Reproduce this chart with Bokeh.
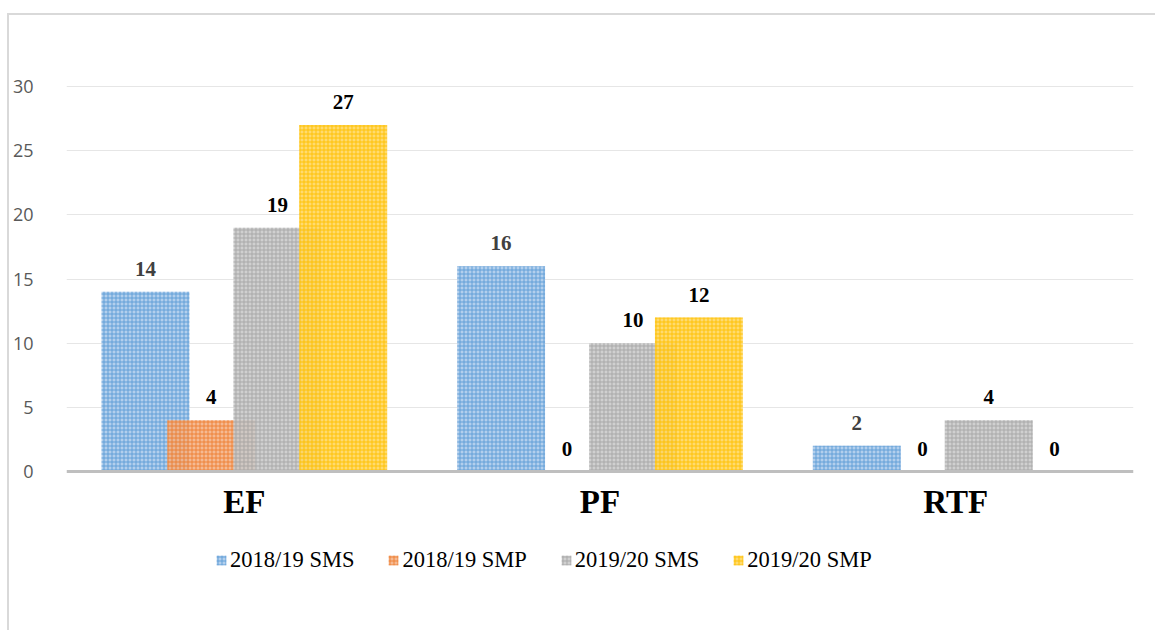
from bokeh.plotting import figure
from bokeh.models import (FactorRange, Range1d, FixedTicker, Legend, LegendItem,
                          ColumnDataSource, Span)
from bokeh.transform import dodge
from bokeh.core.properties import value
from bokeh.embed import file_html
from bokeh.resources import INLINE

categories = ["EF", "PF", "RTF"]
series_names = ["2018/19 SMS", "2018/19 SMP", "2019/20 SMS", "2019/20 SMP"]
sms_1819 = [14, 16, 2]
smp_1819 = [4, 0, 0]
sms_1920 = [19, 10, 4]
smp_1920 = [27, 12, 0]
y_ticks = [0, 5, 10, 15, 20, 25, 30]

series_values = [sms_1819, smp_1819, sms_1920, smp_1920]
fills = ["#A9C8EA", "#F4B084", "#CACACA", "#FFD65C"]
hatches = ["#5B9BD5", "#ED7D31", "#A5A5A5", "#FFC000"]
label_colors = ["#404040", "#000000", "#000000", "#000000"]
offsets = [-0.278, -0.093, 0.093, 0.278]
bar_w = 0.247

p = figure(x_range=FactorRange(*categories, range_padding=0),
           y_range=Range1d(-12.546, 32.03),
           width=1148, height=617, output_backend="svg", toolbar_location=None,
           min_border_left=56, min_border_right=24, min_border_top=45,
           min_border_bottom=0)
p.styles = {"border-top": "2px solid #D9D9D9", "border-left": "2px solid #D9D9D9",
            "margin-left": "7px", "margin-top": "13px"}
p.outline_line_color = None
p.background_fill_color = "white"
p.border_fill_color = "white"

p.xaxis.visible = False
p.xgrid.grid_line_color = None
p.ygrid.grid_line_color = "#E6E6E6"
p.ygrid.grid_line_width = 1
p.yaxis.ticker = FixedTicker(ticks=y_ticks)
p.ygrid.ticker = FixedTicker(ticks=y_ticks[1:])
p.yaxis.axis_line_color = None
p.yaxis.major_tick_line_color = None
p.yaxis.minor_tick_line_color = None
p.yaxis.major_label_text_font = "Open Sans"
p.yaxis.major_label_text_font_size = "18px"
p.yaxis.major_label_text_color = "#595959"
p.yaxis.major_label_standoff = 27

items = []
for name, vals, fc, hc, lc, off in zip(series_names, series_values, fills, hatches,
                                       label_colors, offsets):
    src = ColumnDataSource(dict(cat=categories, val=vals,
                                txt=[str(v) for v in vals]))
    r = p.vbar(x=dodge("cat", off, range=p.x_range), top="val", bottom=0,
               width=bar_w, source=src, fill_color=fc, fill_alpha=0.88,
               line_color=None, hatch_pattern="+", hatch_color=hc, hatch_scale=4,
               hatch_weight=1, hatch_alpha=0.9)
    p.text(x=dodge("cat", off, range=p.x_range), y="val", text="txt", source=src,
           text_font=value("Liberation Serif"), text_font_style="bold",
           text_font_size="21px", text_color=lc, text_align="center",
           text_baseline="middle", y_offset=-23)
    items.append(LegendItem(label=name, renderers=[r]))

# category axis line and labels
p.add_layout(Span(location=0, dimension="width", line_color="#BFBFBF", line_width=3))
cat_src = ColumnDataSource(dict(cat=categories, y=[0] * len(categories)))
p.text(x="cat", y="y", text="cat", source=cat_src,
       text_font=value("Liberation Serif"), text_font_style="bold",
       text_font_size="33px", text_color="#000000", text_align="center",
       text_baseline="middle", y_offset=30)

legend = Legend(items=items, orientation="horizontal", location=(149, 59),
                label_text_font="Liberation Serif", label_text_font_size="22.5px",
                label_text_color="#000000", glyph_width=12, glyph_height=12,
                label_standoff=3, spacing=33, padding=0, margin=0,
                border_line_color=None, background_fill_alpha=0)
p.add_layout(legend, "center")

open("out.html", "w").write(file_html(p, INLINE))
